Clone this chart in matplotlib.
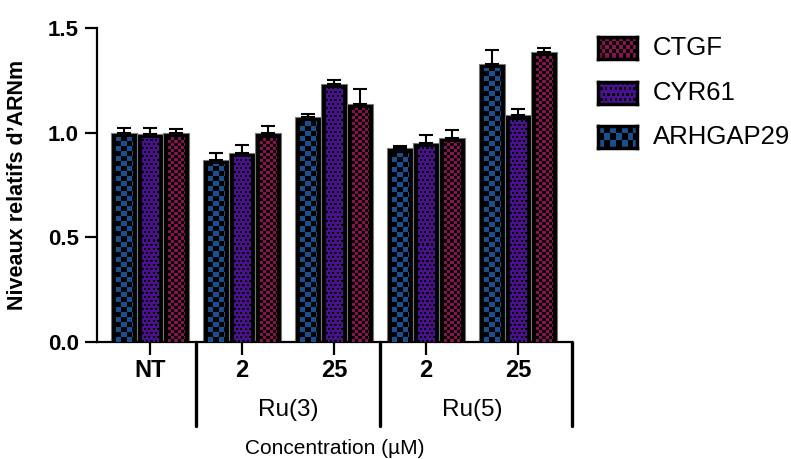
import numpy as np
import matplotlib
matplotlib.use("Agg")
import matplotlib.pyplot as plt
from matplotlib.colors import to_rgb
import matplotlib.transforms as mtransforms

plt.rcParams['font.family'] = ['Liberation Sans', 'DejaVu Sans']

# data
groups = ['NT', '2', '25', '2', '25']
compounds = ['Ru(3)', 'Ru(5)']
genes = ['ARHGAP29', 'CYR61', 'CTGF']
arhgap29 = [1.00, 0.87, 1.075, 0.926, 1.33]
arhgap29_err = [0.02, 0.032, 0.016, 0.008, 0.065]
cyr61 = [0.995, 0.904, 1.234, 0.953, 1.083]
cyr61_err = [0.027, 0.036, 0.019, 0.034, 0.029]
ctgf = [1.0, 0.998, 1.139, 0.976, 1.387]
ctgf_err = [0.016, 0.032, 0.071, 0.035, 0.018]

colors = {'ARHGAP29': '#1a4f8f', 'CYR61': '#4a1090', 'CTGF': '#8a1050'}
kinds = {'ARHGAP29': 'big', 'CYR61': 'dots', 'CTGF': 'small'}


def make_pattern(kind, color, w, h):
    w, h = max(int(round(w)), 1), max(int(round(h)), 1)
    yy, xx = np.mgrid[0:h, 0:w]
    rgb = np.array(to_rgb(color))
    img = np.zeros((h, w, 3))
    if kind == 'big':
        mask = (xx // 5 + yy // 5) % 2 == 0
        img[mask] = rgb
    elif kind == 'small':
        mask = (xx // 3 + yy // 3) % 2 == 0
        img[mask] = rgb
    else:
        img[:] = rgb
        off = ((yy // 4) % 2) * 2
        dots = ((xx + off) % 4 < 2) & (yy % 4 < 2)
        img[dots] = 0
    return img


W, H = 791, 459
fig = plt.figure(figsize=(W / 100, H / 100), dpi=100)
ax_l, ax_r, ax_b, ax_t = 97, 572, 342, 28
ax = fig.add_axes([ax_l / W, 1 - ax_b / H, (ax_r - ax_l) / W, (ax_b - ax_t) / H])

xmin, xmax = -0.576, 4.587
ymin, ymax = 0, 1.5
sx = (ax_r - ax_l) / (xmax - xmin)
sy = (ax_b - ax_t) / (ymax - ymin)
inset = 5

x = np.arange(len(groups))
bw = 0.283
series = [(arhgap29, arhgap29_err), (cyr61, cyr61_err), (ctgf, ctgf_err)]
for i, (gene, (vals, errs)) in enumerate(zip(genes, series)):
    pos = x + (i - 1) * bw
    bars = ax.bar(pos, vals, bw, color='black', edgecolor='#777777', linewidth=0.8, zorder=2)
    ax.errorbar(pos, vals, yerr=[np.zeros(len(vals)), errs], fmt='none', ecolor='black',
                elinewidth=1.5, capsize=5, capthick=1.5, zorder=4)
    for b in bars:
        x0 = b.get_x() + inset / sx
        x1 = b.get_x() + b.get_width() - inset / sx
        y1 = b.get_height() - inset / sy
        img = make_pattern(kinds[gene], colors[gene], (x1 - x0) * sx, y1 * sy)
        ax.imshow(img, extent=[x0, x1, 0, y1], aspect='auto', interpolation='nearest',
                  origin='lower', zorder=3)

ax.set_xlim(xmin, xmax)
ax.set_ylim(ymin, ymax)
ax.spines['top'].set_visible(False)
ax.spines['right'].set_visible(False)
ax.spines['left'].set_linewidth(1.6)
ax.spines['bottom'].set_linewidth(1.6)
ax.set_yticks([0, 0.5, 1.0, 1.5])
ax.set_yticklabels(['0.0', '0.5', '1.0', '1.5'], fontsize=16, fontweight='bold')
ax.set_xticks(x)
ax.set_xticklabels(groups, fontsize=17, fontweight='bold')
ax.tick_params(axis='both', length=9, width=1.6, pad=4)
ax.tick_params(axis='x', pad=3)
ax.set_ylabel('Niveaux relatifs d’ARNm', fontsize=15.5, fontweight='bold', labelpad=14)

# group brackets under the x axis
trans = mtransforms.blended_transform_factory(ax.transData, ax.transAxes)
for bx in [0.5, 2.5, xmax]:
    ax.plot([bx, bx], [0, -(426 - 342) / (ax_b - ax_t)], color='black', lw=2.4,
            transform=trans, clip_on=False, solid_capstyle='round')
for cx, name in zip([1.5, 3.5], compounds):
    ax.text(cx, -(410 - 342) / (ax_b - ax_t), name, transform=trans, ha='center', va='center',
            fontsize=17.5)
fig.text((ax_l + ax_r) / 2 / W, 1 - 449 / H, 'Concentration (µM)', ha='center', va='center',
         fontsize=15)

# legend with patterned swatches
leg_y = [48, 93, 137]
for gene, cy in zip(['CTGF', 'CYR61', 'ARHGAP29'], leg_y):
    sw = fig.add_axes([598 / W, 1 - (cy + 11) / H, 39 / W, 22 / H])
    sw.imshow(make_pattern(kinds[gene], colors[gene], 33, 16), aspect='auto',
              interpolation='nearest')
    sw.set_xticks([])
    sw.set_yticks([])
    for s in sw.spines.values():
        s.set_linewidth(2.5)
        s.set_color('black')
    fig.text(653 / W, 1 - cy / H, gene, ha='left', va='center', fontsize=18.5)

fig.savefig('out.png', dpi=100)
